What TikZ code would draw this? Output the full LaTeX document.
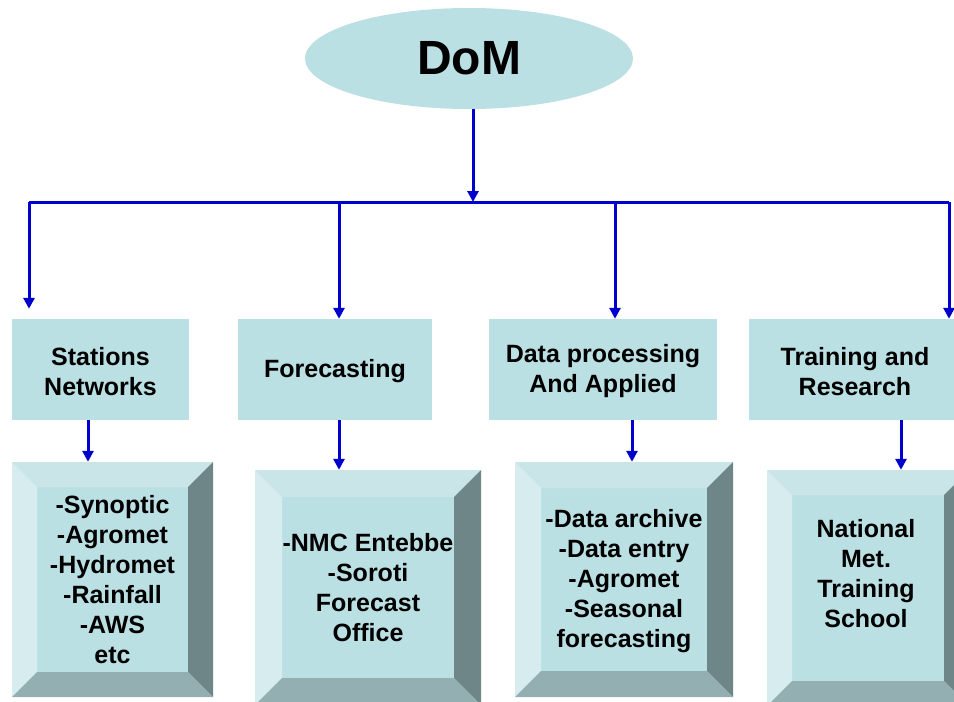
\documentclass[tikz,border=0pt]{standalone}
\usepackage{fontspec}
\setmainfont{Liberation Sans}
\usetikzlibrary{arrows.meta,shapes.geometric}
\definecolor{boxc}{RGB}{187,224,227}
\definecolor{topface}{RGB}{201,229,232}
\definecolor{leftface}{RGB}{215,236,239}
\definecolor{rightface}{RGB}{111,134,136}
\definecolor{bottomface}{RGB}{148,175,177}
\definecolor{linkblue}{RGB}{0,0,204}
\begin{document}
\begin{tikzpicture}[x=1pt,y=-1pt,
  lbl/.style={font=\fontsize{25}{30}\selectfont\bfseries, align=center, text=black},
  topbox/.style={rectangle, fill=boxc, inner sep=0pt, lbl},
  bevelbox/.style={rectangle, fill=boxc, inner sep=0pt, path picture={
    \fill[topface] (path picture bounding box.north west) -- (path picture bounding box.north east)
      -- ([xshift=-#1,yshift=-#1]path picture bounding box.north east) -- ([xshift=#1,yshift=-#1]path picture bounding box.north west) -- cycle;
    \fill[leftface] (path picture bounding box.north west) -- (path picture bounding box.south west)
      -- ([xshift=#1,yshift=#1]path picture bounding box.south west) -- ([xshift=#1,yshift=-#1]path picture bounding box.north west) -- cycle;
    \fill[rightface] (path picture bounding box.north east) -- (path picture bounding box.south east)
      -- ([xshift=-#1,yshift=#1]path picture bounding box.south east) -- ([xshift=-#1,yshift=-#1]path picture bounding box.north east) -- cycle;
    \fill[bottomface] (path picture bounding box.south west) -- (path picture bounding box.south east)
      -- ([xshift=-#1,yshift=#1]path picture bounding box.south east) -- ([xshift=#1,yshift=#1]path picture bounding box.south west) -- cycle;
  }},
  link/.style={draw=linkblue, line width=3pt},
  arr/.style={link, -{Triangle[length=11pt,width=11pt]}}
]
\clip (0,0) rectangle (954,702);
\fill[white] (0,0) rectangle (954,702);

% top ellipse
\node[ellipse, fill=boxc, minimum width=328pt, minimum height=101pt, inner sep=0pt,
      font=\fontsize{48}{56}\selectfont\bfseries] (dom) at (469,58.5) {DoM};

% bus coordinates
\coordinate (j0) at (473,202);
\coordinate (j1) at (29,202);
\coordinate (j2) at (339,202);
\coordinate (j3) at (615,202);
\coordinate (j4) at (949,202);

% second level boxes
\node[topbox, minimum width=177pt, minimum height=101pt] (t1) at (100.5,369.5) {};
\node[topbox, minimum width=194pt, minimum height=101pt] (t2) at (335,369.5) {};
\node[topbox, minimum width=228pt, minimum height=101pt] (t3) at (603,369.5) {};
\node[topbox, minimum width=212pt, minimum height=101pt] (t4) at (855,369.5) {};
\node[lbl] (t1t) at ([yshift=-2pt]t1.center) {Stations\\Networks};
\node[lbl] (t2t) at ([yshift=-2pt]t2.center) {Forecasting};
\node[lbl] (t3t) at ([yshift=-2pt]t3.center) {Data processing\\And Applied};
\node[lbl] (t4t) at ([yshift=-2pt]t4.center) {Training and\\Research};

% bevel boxes
\node[bevelbox=25pt, minimum width=201pt, minimum height=235pt] (b1) at (112.5,579.5) {};
\node[bevelbox=27pt, minimum width=226pt, minimum height=235pt] (b2) at (368,587.5) {};
\node[bevelbox=26pt, minimum width=218pt, minimum height=235pt] (b3) at (624,579.5) {};
\node[bevelbox=25pt, minimum width=202pt, minimum height=236pt] (b4) at (868,588) {};

\node[lbl] (b1t) at (b1.center) {-Synoptic\\-Agromet\\-Hydromet\\-Rainfall\\-AWS\\etc};
\node[lbl] (b2t) at (b2.center) {-NMC Entebbe\\-Soroti\\Forecast\\Office};
\node[lbl] (b3t) at ([yshift=-2pt]b3.center) {-Data archive\\-Data entry\\-Agromet\\-Seasonal\\forecasting};
\node[lbl] (b4t) at ([xshift=-2pt,yshift=14pt]b4.center) {National\\Met.\\Training\\School};

% connectors
\draw[link] (j1) -- (j4);
\draw[arr] (dom.south -| j0) -- (j0);
\draw[arr, shorten >=10pt] (j1) -- (j1 |- t1.north);
\draw[arr] (j2) -- (j2 |- t2.north);
\draw[arr] (j3) -- (j3 |- t3.north);
\draw[arr] (j4) -- (j4 |- t4.north);

\draw[arr] ([xshift=-12.5pt]t1.south) -- ([xshift=-12.5pt]t1.south |- b1.north);
\draw[arr] ([xshift=4pt]t2.south) -- ([xshift=4pt]t2.south |- b2.north);
\draw[arr] ([xshift=29pt]t3.south) -- ([xshift=29pt]t3.south |- b3.north);
\draw[arr] ([xshift=46pt]t4.south) -- ([xshift=46pt]t4.south |- b4.north);
\end{tikzpicture}
\end{document}
